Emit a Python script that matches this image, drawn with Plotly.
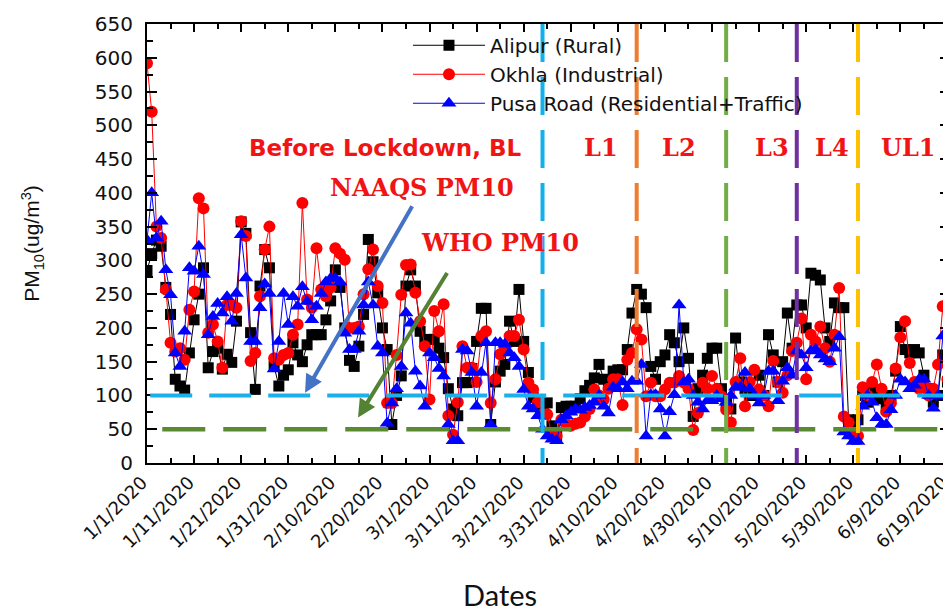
import pandas as pd
import plotly.graph_objects as go

# ---------------- data ----------------
start_date = "2020-01-01"

alipur = [
    285, 310, 330, 321, 260, 220, 124, 114, 108, 163,
    212, 250, 289, 141, 165, 170, 139, 161, 149, 210,
    357, 340, 193, 109, 262, 316, 289, 143, 114, 130,
    138, 178, 160, 150, 175, 190, 190, 190, 212, 240,
    286, 260, 200, 152, 143, 173, 220, 331, 298, 252,
    200, 168, 57, 100, 129, 262, 286, 262, 195, 181,
    183, 183, 170, 156, 110, 80, 70, 119, 119, 140,
    180, 229, 229, 57, 120, 136, 146, 210, 180, 257,
    180, 134, 97, 90, 85, 89, 55, 40, 82, 84,
    84, 84, 95, 107, 115, 126, 146, 124, 120, 136,
    138, 138, 168, 222, 257, 250, 230, 143, 124, 150,
    160, 190, 178, 150, 200, 155, 69, 110, 130, 155,
    170, 170, 110, 89, 80, 185, 120, 110, 100, 100,
    130, 100, 190, 160, 120, 150, 222, 170, 234, 234,
    200, 281, 278, 271, 200, 180, 237, 230, 230, 64,
    60, 64, 100, 90, 110, 100, 95, 80, 100, 136,
    202, 168, 163, 168, 163, 130, 110, 90, 100, 160, 120,
]

okhla = [
    592, 520, 350, 333, 257, 178, 165, 170, 153, 227,
    254, 392, 377, 193, 205, 180, 141, 234, 234, 230,
    358, 336, 151, 163, 247, 316, 350, 155, 153, 160,
    163, 190, 205, 385, 242, 230, 318, 257, 247, 260,
    318, 310, 301, 200, 200, 202, 250, 287, 316, 262,
    237, 89, 89, 160, 249, 293, 294, 252, 210, 173,
    94, 225, 195, 235, 70, 42, 90, 173, 141, 141,
    120, 188, 195, 89, 124, 161, 170, 188, 188, 212,
    168, 119, 109, 90, 72, 72, 40, 40, 64, 58,
    55, 58, 60, 69, 80, 109, 100, 94, 110, 124,
    124, 86, 153, 163, 198, 183, 99, 119, 99, 99,
    109, 119, 119, 129, 119, 110, 49, 74, 119, 110,
    129, 110, 99, 79, 60, 120, 155, 84, 120, 138,
    109, 100, 84, 151, 120, 104, 130, 166, 178, 214,
    124, 190, 180, 202, 170, 150, 190, 259, 69, 60,
    40, 40, 112, 100, 120, 146, 110, 76, 89, 140,
    186, 210, 148, 120, 110, 115, 100, 110, 146, 232, 124,
]

pusa = [
    330, 400, 333, 358, 286, 249, 163, 143, 195, 289,
    284, 321, 279, 190, 217, 236, 222, 246, 210, 251,
    338, 274, 180, 180, 230, 265, 251, 139, 180, 251,
    205, 246, 232, 261, 239, 212, 232, 251, 268, 273,
    273, 268, 192, 168, 168, 195, 234, 268, 234, 173,
    163, 59, 89, 110, 143, 222, 207, 136, 114, 84,
    163, 156, 140, 129, 57, 33, 33, 168, 166, 134,
    84, 134, 178, 57, 178, 178, 176, 163, 156, 143,
    109, 84, 80, 70, 50, 40, 35, 33, 64, 70,
    75, 80, 78, 82, 85, 90, 100, 84, 74, 112,
    110, 120, 110, 121, 121, 146, 40, 101, 101, 80,
    40, 76, 101, 234, 120, 124, 100, 90, 80, 92,
    92, 100, 95, 90, 100, 112, 112, 134, 110, 100,
    89, 100, 136, 136, 92, 121, 141, 130, 166, 160,
    141, 166, 168, 160, 154, 150, 170, 187, 46, 40,
    32, 32, 84, 100, 90, 67, 57, 57, 79, 100,
    124, 120, 110, 115, 124, 124, 100, 81, 100, 188, 100,
]

series_names = ["Alipur (Rural)", "Okhla (Industrial)", "Pusa Road (Residential+Traffic)"]

tick_labels = [
    "1/1/2020", "1/11/2020", "1/21/2020", "1/31/2020", "2/10/2020", "2/20/2020",
    "3/1/2020", "3/11/2020", "3/21/2020", "3/31/2020", "4/10/2020", "4/20/2020",
    "4/30/2020", "5/10/2020", "5/20/2020", "5/30/2020", "6/9/2020", "6/19/2020",
]

naaqs_pm10 = 100
who_pm10 = 50

phase_dates = ["2020-03-25", "2020-04-14", "2020-05-03", "2020-05-18", "2020-05-31"]
phase_labels = ["L1", "L2", "L3", "L4", "UL1"]

# ---------------- figure ----------------
dates = pd.date_range(start_date, periods=len(alipur), freq="D")
tick_dates = pd.to_datetime(tick_labels, format="%m/%d/%Y")
minor_dates = tick_dates[:-1] + pd.Timedelta(days=5)

fig = go.Figure()
styles = [
    dict(color="#000000", symbol="square", size=11),
    dict(color="#FF0000", symbol="circle", size=12),
    dict(color="#0000FF", symbol="triangle-up", size=13),
]
for name, vals, st in zip(series_names, [alipur, okhla, pusa], styles):
    fig.add_trace(go.Scatter(
        x=dates, y=vals, name=name, mode="lines+markers",
        line=dict(color=st["color"], width=1),
        marker=dict(color=st["color"], symbol=st["symbol"], size=st["size"], line=dict(width=0)),
    ))

RED = "#F01414"
shapes = []
shapes.append(dict(type="line", xref="paper", yref="y", x0=0.004, x1=1, y0=naaqs_pm10, y1=naaqs_pm10,
                   line=dict(color="#1CB0EA", width=4, dash="42px,17px"), layer="above"))
shapes.append(dict(type="line", xref="paper", yref="y", x0=0.019, x1=1, y0=who_pm10, y1=who_pm10,
                   line=dict(color="#5A8A32", width=4.5, dash="43px,18px"), layer="above"))
phase_colors = ["#12B0EC", "#ED7D31", "#70AD47", "#7030A0", "#FFC000"]
for d, c in zip(phase_dates, phase_colors):
    shapes.append(dict(type="line", xref="x", yref="paper", x0=d, x1=d, y0=1, y1=0,
                       line=dict(color=c, width=4, dash="38px,15px"), layer="above"))

annotations = []
annotations.append(dict(text="<b>Before Lockdown, BL</b>", xref="paper", yref="paper", x=0.296, y=0.718,
                        xanchor="center", yanchor="middle",
                        showarrow=False, font=dict(family="DejaVu Sans", size=23, color=RED)))
label_x = [0.565, 0.6625, 0.778, 0.853, 0.948]
for lab, lx in zip(phase_labels, label_x):
    annotations.append(dict(text="<b>%s</b>" % lab, xref="paper", yref="paper", x=lx, y=0.718,
                            xanchor="center", yanchor="middle",
                            showarrow=False, font=dict(family="DejaVu Serif", size=24, color=RED)))
annotations.append(dict(text="<b>NAAQS PM10</b>", xref="paper", yref="paper", x=0.343, y=0.627,
                        xanchor="center", yanchor="middle",
                        showarrow=False, font=dict(family="DejaVu Serif", size=24, color=RED)))
annotations.append(dict(text="<b>WHO PM10</b>", xref="paper", yref="paper", x=0.44, y=0.502,
                        xanchor="center", yanchor="middle",
                        showarrow=False, font=dict(family="DejaVu Serif", size=24, color=RED)))
# arrows
annotations.append(dict(text="", xref="paper", yref="paper", x=0.1968, y=0.160, ax=108, ay=-188,
                        showarrow=True, arrowhead=2, arrowsize=0.9, arrowwidth=4, arrowcolor="#4472C4"))
annotations.append(dict(text="", xref="paper", yref="paper", x=0.2628, y=0.1035, ax=90, ay=-146,
                        showarrow=True, arrowhead=2, arrowsize=0.9, arrowwidth=4, arrowcolor="#548235"))
# x-axis title
annotations.append(dict(text="Dates", xref="paper", yref="paper", x=0.44, y=-0.300,
                        xanchor="center", yanchor="middle",
                        showarrow=False, font=dict(family="Lato", size=29, color="#111111")))

# the page body adds an 8px offset; the figure is sized so the plot box lands at x 147-950, y 24-463
fig.update_layout(
    width=943, height=605,
    margin=dict(l=139, r=1, t=16, b=149.5, autoexpand=False),
    paper_bgcolor="white", plot_bgcolor="white",
    shapes=shapes, annotations=annotations,
    showlegend=True,
    legend=dict(x=0.325, y=0.996, xanchor="left", yanchor="top", bgcolor="rgba(0,0,0,0)",
                font=dict(family="DejaVu Sans", size=20, color="#111111"), itemwidth=72,
                tracegroupgap=0),
)
fig.update_xaxes(
    range=[pd.Timestamp(start_date), pd.Timestamp("2020-06-19 13:00")],
    tickmode="array", tickvals=tick_dates, ticktext=tick_labels, tickangle=-45,
    ticks="inside", ticklen=8, tickwidth=1.5, tickcolor="black",
    minor=dict(tickmode="array", tickvals=minor_dates, ticks="inside", ticklen=5, tickwidth=1.5, tickcolor="black"),
    showline=True, linecolor="black", linewidth=2, mirror="allticks",
    showgrid=False, zeroline=False, automargin=False, ticklabeloverflow="allow",
    ticklabelshift=-5,
    tickfont=dict(family="DejaVu Sans", size=18, color="#111111"),
)
fig.update_yaxes(
    range=[0, 650], dtick=50, tick0=0,
    ticks="inside", ticklen=10, tickwidth=1.5, tickcolor="black",
    minor=dict(dtick=25, ticks="inside", ticklen=6, tickwidth=1.5, tickcolor="black"),
    showline=True, linecolor="black", linewidth=2, mirror="allticks",
    showgrid=False, zeroline=False, ticklabelstandoff=8, automargin=False,
    tickfont=dict(family="DejaVu Sans", size=20, color="#111111"),
    title=dict(text="PM<sub>10</sub>(ug/m<sup>3</sup>)", standoff=49,
               font=dict(family="Liberation Sans", size=21, color="#111111")),
)

fig.write_html("out.html")
